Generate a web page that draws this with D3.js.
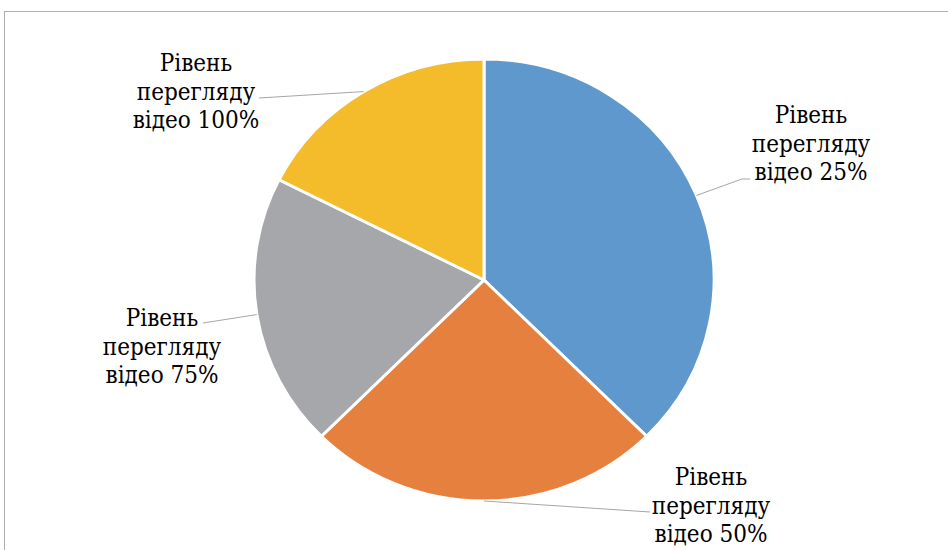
<!DOCTYPE html>
<html>
<head>
<meta charset="utf-8">
<script src="https://cdn.jsdelivr.net/npm/d3@7"></script>
<style>
  body { margin: 0; background: #fff; }
  svg { display: block; }
</style>
</head>
<body>
<div id="chart"></div>
<script>
// categories and values (share of views)
const categories = ["Рівень перегляду відео 25%", "Рівень перегляду відео 50%",
                    "Рівень перегляду відео 75%", "Рівень перегляду відео 100%"];
const values = [37.5, 25, 20, 17.5];
const colors = ["#5f98cc", "#e6803f", "#a6a7aa", "#f4bc2b"];

// label lines split like in the original
const labelLines = [
    ["Рівень", "перегляду", "відео 25%"],
    ["Рівень", "перегляду", "відео 50%"],
    ["Рівень", "перегляду", "відео 75%"],
    ["Рівень", "перегляду", "відео 100%"]
];

const width = 948, height = 550;
const cx = 484, cy = 280;
const rx = 230, ry = 221;

// label placement: center x, first baseline, leader end point
const labelPos = [
    { x: 811, y: 123, lx: 750, ly: 179, bend: 742 },
    { x: 711, y: 485, lx: 650, ly: 512 },
    { x: 162, y: 326, lx: 203, ly: 323 },
    { x: 196, y: 71, lx: 259, ly: 98 }
];

const fontFam = "'DejaVu Serif Condensed', 'DejaVu Serif', serif";

const svg = d3.select("#chart").append("svg")
    .attr("width", width)
    .attr("height", height);

// chart frame
svg.append("rect")
    .attr("x", 4.5)
    .attr("y", 11.5)
    .attr("width", 960)
    .attr("height", 600)
    .style("fill", "none")
    .style("stroke", "#b0b0b0")
    .style("stroke-width", 1);

const pie = d3.pie().sort(null).value(d => d);
const arcs = pie(values);

const arc = d3.arc().innerRadius(0).outerRadius(rx);

// pie is a little squashed vertically in the picture
const g = svg.append("g")
    .attr("transform", `translate(${cx},${cy}) scale(1,${ry / rx})`);

g.selectAll("path")
    .data(arcs)
    .enter()
    .append("path")
    .attr("d", arc)
    .style("fill", (d, i) => colors[i])
    .style("stroke", "#fff")
    .style("stroke-width", 3)
    .style("stroke-linejoin", "round");

// leader lines
arcs.forEach((d, i) => {
    let mid = (d.startAngle + d.endAngle) / 2;
    let sx = cx + rx * Math.sin(mid);
    let sy = cy - ry * Math.cos(mid);
    let p = labelPos[i];
    let pts = [[sx, sy]];
    if (p.bend) pts.push([p.bend, p.ly]);
    pts.push([p.lx, p.ly]);
    svg.append("path")
        .attr("d", d3.line()(pts))
        .style("fill", "none")
        .style("stroke", "#a6a6a6")
        .style("stroke-width", 1);
});

// labels
labelLines.forEach((lines, i) => {
    let p = labelPos[i];
    let t = svg.append("text")
        .attr("x", p.x)
        .attr("y", p.y)
        .attr("text-anchor", "middle")
        .style("font-family", fontFam)
        .style("font-stretch", "condensed")
        .style("font-size", "24px")
        .style("fill", "#000");
    lines.forEach((ln, j) => {
        t.append("tspan")
            .attr("x", p.x)
            .attr("dy", j == 0 ? 0 : 28.7)
            .text(ln);
    });
});
</script>
</body>
</html>
